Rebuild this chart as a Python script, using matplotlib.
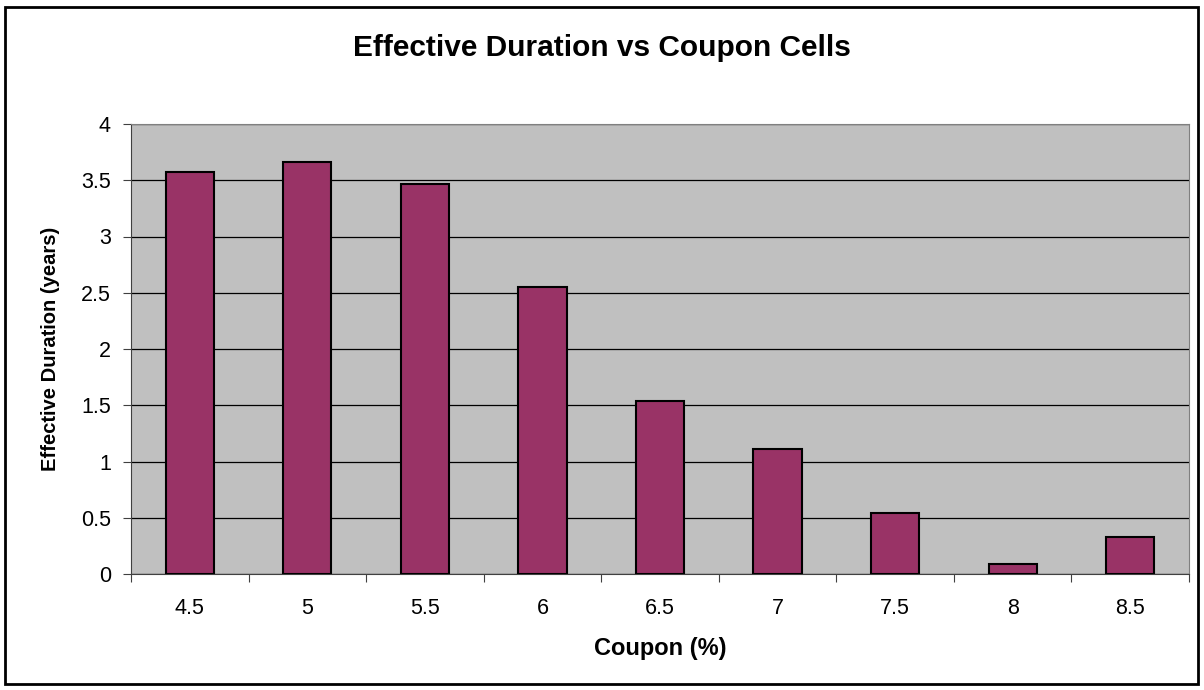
import numpy as np
import matplotlib.pyplot as plt
from matplotlib.patches import Rectangle

plt.rcParams['font.family'] = ['Liberation Sans', 'DejaVu Sans']

# Dati
coupons = ['4.5', '5', '5.5', '6', '6.5', '7', '7.5', '8', '8.5']
durations = [3.57, 3.66, 3.47, 2.55, 1.54, 1.11, 0.54, 0.09, 0.33]

fig = plt.figure(figsize=(12.04, 6.90), dpi=100)
W, H = 1204, 690
ax = fig.add_axes([131 / W, 1 - 574 / H, (1189 - 131) / W, (574 - 124) / H])

x = np.arange(len(coupons))
ax.set_facecolor('#c0c0c0')
ax.bar(x, durations, width=0.41, color='#993366', edgecolor='black', linewidth=1.5, zorder=3)

ax.set_xlim(-0.5, len(coupons) - 0.5)
ax.set_ylim(0, 4)
ax.set_yticks(np.arange(0, 4.01, 0.5))
ax.set_yticklabels(['0', '0.5', '1', '1.5', '2', '2.5', '3', '3.5', '4'])
ax.yaxis.grid(True, color='black', linewidth=0.9, zorder=1)

# tick tra le categorie, etichette al centro
ax.set_xticks(np.arange(-0.5, len(coupons), 1.0))
ax.set_xticklabels([])
ax.set_xticks(x, minor=True)
ax.set_xticklabels(coupons, minor=True)
ax.tick_params(axis='x', which='minor', length=0, pad=17, labelsize=15.5)
ax.tick_params(axis='x', which='major', length=5.5, color='#404040')
ax.tick_params(axis='y', length=5.5, color='#404040', labelsize=15.5, pad=9)

for side in ['top', 'right']:
    ax.spines[side].set_color('#808080')
for side in ['left', 'bottom']:
    ax.spines[side].set_color('#404040')

ax.set_xlabel('Coupon (%)', fontsize=17, fontweight='bold', va='top')
ax.xaxis.set_label_coords(0.5, -0.14)
ax.set_ylabel('Effective Duration (years)', fontsize=14.5, fontweight='bold')
ax.yaxis.set_label_coords(-0.067, 0.5)
fig.text(0.5, 1 - 48 / H, 'Effective Duration vs Coupon Cells', ha='center', va='center',
         fontsize=21.5, fontweight='bold')

# cornice esterna
fig.patches.append(Rectangle((5 / W, 6 / H), 1193 / W, 677 / H, transform=fig.transFigure,
                             fill=False, edgecolor='black', linewidth=2))

fig.savefig('out.png', dpi=100)
